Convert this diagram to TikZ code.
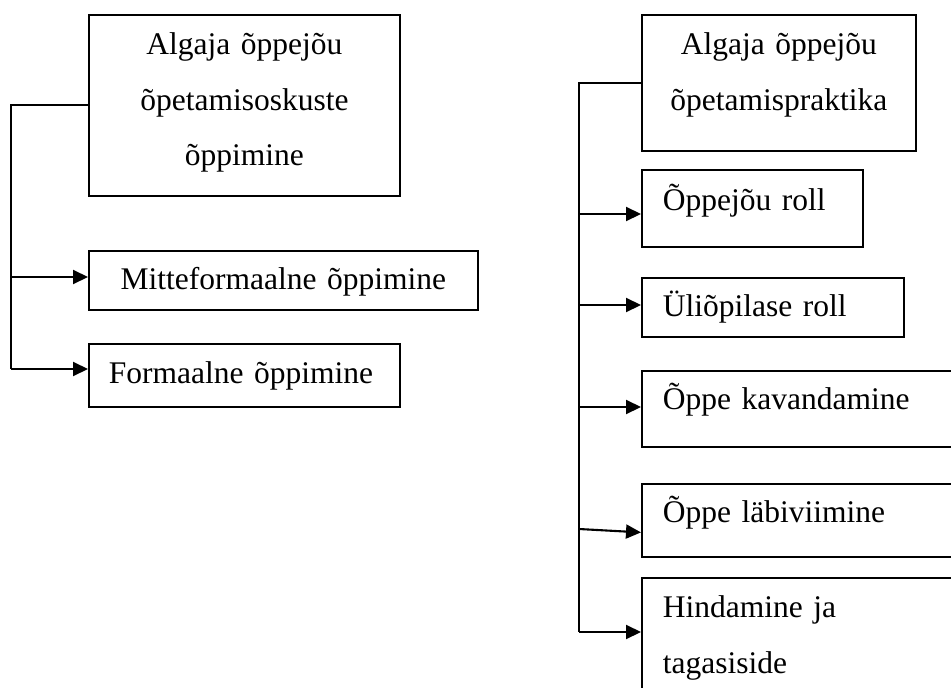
\documentclass[tikz,border=0pt]{standalone}
\usepackage{fontspec}
\setmainfont{Liberation Serif}
\usetikzlibrary{arrows.meta}

\tikzset{
	box/.style = {draw, line width=1.8pt, anchor=north west, inner ysep=0pt, font=\fontsize{31.5}{55.5}\selectfont},
	headbox/.style = {box, align=center, inner xsep=0pt},
	itembox/.style = {box, align=left, inner xsep=21pt},
	conn/.style = {line width=2.1pt},
	arr/.style = {conn, -{Triangle[length=15pt,width=14pt]}}
}

\begin{document}
\begin{tikzpicture}[x=1pt, y=-1pt]
	\useasboundingbox (0,0) rectangle (951,688);
	\clip (0,0) rectangle (951,688);

	% left side
	\node[headbox, text width=311pt, text height=40pt, text depth=141pt] (oskus) at (88,14) {Algaja õppejõu\\õpetamisoskuste\\õppimine};
	\node[headbox, text width=389pt, text height=39pt, text depth=20pt] (mitte) at (88,250) {Mitteformaalne õppimine};
	\node[itembox, inner xsep=20pt, text width=271pt, text height=40pt, text depth=23pt] (formaal) at (88,343) {Formaalne õppimine};

	\coordinate (lsp) at (11,369);
	\coordinate (l1) at (11,277);
	\draw[conn] (oskus.west) -| (lsp);
	\draw[arr] (l1) -- (mitte.west |- l1);
	\draw[arr] (lsp) -- (formaal.west |- lsp);

	% right side
	\node[headbox, text width=274pt, text height=40pt, text depth=96pt] (praktika) at (641,14) {Algaja õppejõu\\õpetamispraktika};
	\node[itembox, text width=179pt, text height=41pt, text depth=36pt] (roll) at (641,169) {Õppejõu roll};
	\node[itembox, text width=220pt, text height=39pt, text depth=20pt] (yliopilane) at (641,277) {Üliõpilase roll};
	\node[itembox, text width=300pt, text height=39pt, text depth=37pt] (kavand) at (641,370) {Õppe kavandamine};
	\node[itembox, text width=300pt, text height=39pt, text depth=34pt] (labiviim) at (641,483) {Õppe läbiviimine};
	\node[itembox, text width=300pt, text height=40pt, text depth=90pt] (hindam) at (641,577) {Hindamine ja\\tagasiside};

	\coordinate (rsp) at (579,632);
	\draw[conn] (praktika.west) -| (rsp);
	\foreach \b/\y in {roll/214, yliopilane/305, kavand/407, hindam/632} {
		\coordinate (s\b) at (579,\y);
		\draw[arr] (s\b) -- (\b.west |- s\b);
	}
	\coordinate (slabiviim) at (579,529);
	\draw[arr] (slabiviim) -- ([yshift=-12pt]labiviim.west);
\end{tikzpicture}
\end{document}
